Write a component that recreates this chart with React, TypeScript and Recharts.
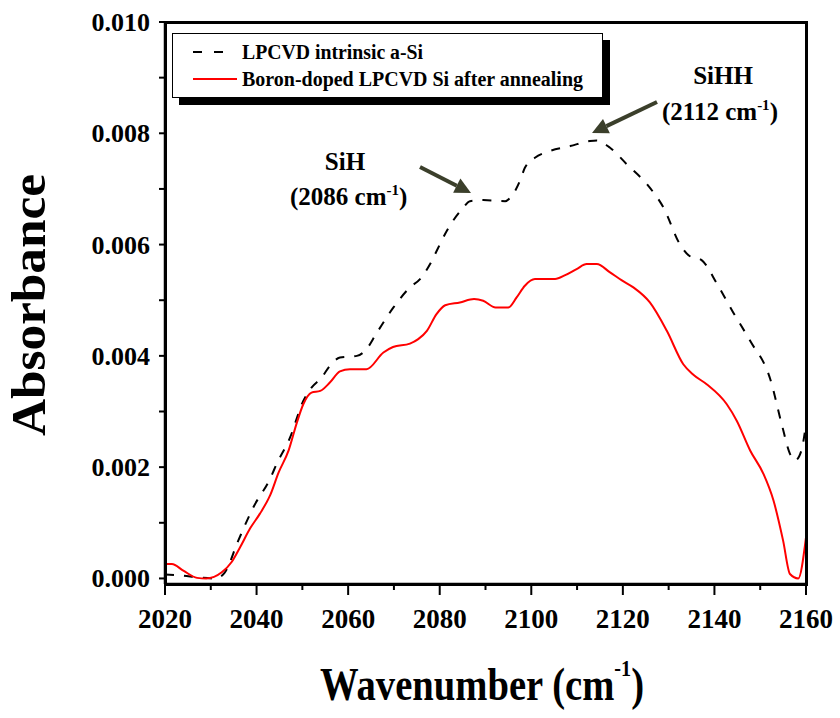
import React from 'react';
import { LineChart, Line, XAxis, YAxis, Label } from 'recharts';

const intrinsicWavenumber = [2020, 2024, 2027, 2031, 2033, 2036, 2039.3, 2043, 2044.4, 2047.3, 2050.2, 2052, 2054.2, 2056, 2058.2, 2061.9, 2063.7, 2066.3, 2069.9, 2073.5, 2075.7, 2077.9, 2079.3, 2081.5, 2085.1, 2086.6, 2089.5, 2094.3, 2095.4, 2097.5, 2098.6, 2100.8, 2104, 2108.5, 2112.8, 2114.3, 2117.2, 2120.9, 2125.3, 2128.9, 2132.5, 2134.5, 2137.2, 2140.6, 2144.1, 2147.8, 2152.2, 2154.7, 2156.5, 2157.6, 2159, 2160];
const intrinsicAbsorbance = [0.00007, 0.00005, 0.00002, 0.0, 0.0001, 0.00068, 0.00128, 0.0018, 0.00206, 0.00253, 0.00319, 0.00343, 0.00361, 0.00382, 0.00397, 0.004, 0.00409, 0.00442, 0.00487, 0.00523, 0.00538, 0.00565, 0.00588, 0.00624, 0.00666, 0.00678, 0.0068, 0.00678, 0.00684, 0.00714, 0.00738, 0.00756, 0.00768, 0.00777, 0.00786, 0.00787, 0.00774, 0.00744, 0.00708, 0.00666, 0.006, 0.0058, 0.00572, 0.00529, 0.00478, 0.00427, 0.00358, 0.00277, 0.00224, 0.00212, 0.0023, 0.00278];

const boronWavenumber = [2020, 2021.5, 2024, 2027, 2029, 2032.4, 2034.6, 2036.4, 2038.6, 2040.7, 2043, 2044.8, 2047, 2048.8, 2050.2, 2052, 2053.9, 2056, 2058.2, 2060.4, 2064, 2067.7, 2069.8, 2073.5, 2075.3, 2077.2, 2079.3, 2081.2, 2084.4, 2087.5, 2089.5, 2092.2, 2095, 2096.8, 2098.6, 2100.8, 2105.2, 2107.4, 2109.9, 2112.1, 2114.3, 2117.2, 2119.7, 2122.3, 2125.9, 2129.6, 2133.2, 2135.4, 2138.3, 2142.7, 2144.9, 2147.8, 2150.7, 2152.9, 2155, 2156.5, 2158.3, 2160];
const boronAbsorbance = [0.00026, 0.00026, 0.00014, 0.00001, 0.0, 0.00011, 0.0003, 0.00056, 0.0009, 0.00116, 0.0015, 0.0019, 0.0023, 0.0028, 0.00313, 0.00334, 0.00337, 0.00352, 0.00372, 0.00376, 0.00376, 0.00406, 0.00416, 0.00422, 0.0043, 0.00445, 0.00475, 0.00491, 0.00496, 0.00502, 0.00499, 0.00487, 0.00487, 0.00505, 0.00526, 0.00538, 0.00538, 0.00545, 0.00556, 0.00565, 0.00565, 0.0055, 0.00536, 0.00523, 0.00496, 0.00445, 0.00385, 0.00366, 0.00349, 0.00313, 0.00283, 0.0023, 0.00188, 0.0014, 0.00068, 0.00008, 0.0, 0.00074];

const xTicks = [2020, 2030, 2040, 2050, 2060, 2070, 2080, 2090, 2100, 2110, 2120, 2130, 2140, 2150, 2160];
const yTicks = [0, 0.001, 0.002, 0.003, 0.004, 0.005, 0.006, 0.007, 0.008, 0.009, 0.01];

const seriesNames = ['LPCVD intrinsic a-Si', 'Boron-doped LPCVD Si after annealing'];

const intrinsicData = intrinsicWavenumber.map((w, i) => ({ w, a: intrinsicAbsorbance[i] }));
const boronData = boronWavenumber.map((w, i) => ({ w, a: boronAbsorbance[i] }));

const FONT = '"Liberation Serif", "Times New Roman", serif';

const W = 840;
const H = 718;
const M = { top: 22, right: 34, bottom: 74, left: 65 };
const X_AXIS_H = 60;
const Y_AXIS_W = 100;

const XTick = (props: any) => {
  const { x, y, payload } = props;
  const v = payload.value;
  const major = Math.round(v) % 20 === 0;
  return (
    <g>
      <line x1={x} x2={x} y1={y} y2={y + (major ? 11 : 6)} stroke="#000" strokeWidth={2} />
      {major && (
        <text x={x} y={y + 44} textAnchor="middle" fontFamily={FONT} fontWeight="bold" fontSize={27} fill="#000">
          {v}
        </text>
      )}
    </g>
  );
};

const YTick = (props: any) => {
  const { x, y, payload } = props;
  const v = payload.value;
  const major = Math.round(v * 1000) % 2 === 0;
  return (
    <g>
      <line x1={x - 6} x2={x} y1={y} y2={y} stroke="#000" strokeWidth={2} />
      {major && (
        <text x={x - 15} y={y + 9} textAnchor="end" fontFamily={FONT} fontWeight="bold" fontSize={26} fill="#000">
          {v.toFixed(3)}
        </text>
      )}
    </g>
  );
};

const LegendBox = () => (
  <div style={{ position: 'absolute', left: 172, top: 33, width: 431, height: 65, border: '1.5px solid #000', background: '#fff', boxShadow: '7px 7px 0 0 #000', boxSizing: 'border-box' }}>
    <svg width={428} height={62} style={{ display: 'block' }}>
      <line x1={20} x2={51} y1={18} y2={18} stroke="#000" strokeWidth={2} strokeDasharray="9 12" />
      <text x={69} y={25} fontFamily={FONT} fontWeight="bold" fontSize={20} fill="#000" textLength={181} lengthAdjust="spacingAndGlyphs">
        {seriesNames[0]}
      </text>
      <line x1={20} x2={64} y1={45} y2={45} stroke="#ff0000" strokeWidth={2} />
      <text x={69} y={52} fontFamily={FONT} fontWeight="bold" fontSize={20} fill="#000" textLength={341} lengthAdjust="spacingAndGlyphs">
        {seriesNames[1]}
      </text>
    </svg>
  </div>
);

const ARROW = '#3b3f2b';

const Arrow = ({ x1, y1, x2, y2 }: { x1: number; y1: number; x2: number; y2: number }) => {
  const ang = Math.atan2(y2 - y1, x2 - x1);
  const len = 16;
  const half = 8;
  const bx = x2 - len * Math.cos(ang);
  const by = y2 - len * Math.sin(ang);
  const px = -Math.sin(ang) * half;
  const py = Math.cos(ang) * half;
  return (
    <g>
      <line x1={x1} y1={y1} x2={bx} y2={by} stroke={ARROW} strokeWidth={4} />
      <polygon points={`${x2},${y2} ${bx + px},${by + py} ${bx - px},${by - py}`} fill={ARROW} />
    </g>
  );
};

export default function App() {
  const L = M.left + Y_AXIS_W;
  const T = M.top;
  const R = W - M.right;
  const B = H - M.bottom - X_AXIS_H;
  return (
    <div style={{ position: 'absolute', left: 0, top: 0, width: W, height: H, background: '#fff' }}>
      <LineChart width={W} height={H} margin={M}>
        <XAxis
          xAxisId="b"
          type="number"
          dataKey="w"
          domain={[2020, 2160]}
          ticks={xTicks}
          interval={0}
          allowDataOverflow
          height={X_AXIS_H}
          tickSize={0}
          tickMargin={0}
          tickLine={false}
          axisLine={{ stroke: '#000', strokeWidth: 2.5 }}
          tick={<XTick />}
        >
          <Label
            content={() => (
              <text transform="translate(320, 700) scale(0.84, 1)" fontFamily={FONT} fontWeight="bold" fontSize={46} fill="#000">
                Wavenumber (cm<tspan dy={-24} fontSize={24}>-1</tspan><tspan dy={24}>)</tspan>
              </text>
            )}
          />
        </XAxis>
        <YAxis
          yAxisId="l"
          type="number"
          domain={[-0.0001, 0.01]}
          ticks={yTicks}
          interval={0}
          allowDataOverflow
          width={Y_AXIS_W}
          tickSize={0}
          tickMargin={0}
          tickLine={false}
          axisLine={{ stroke: '#000', strokeWidth: 2.5 }}
          tick={<YTick />}
        >
          <Label
            content={() => (
              <text x={45} y={305} transform="rotate(-90, 45, 305)" textAnchor="middle" fontFamily={FONT} fontWeight="bold" fontSize={48} fill="#000" textLength={262} lengthAdjust="spacingAndGlyphs">
                Absorbance
              </text>
            )}
          />
        </YAxis>
        <Line
          xAxisId="b"
          yAxisId="l"
          data={intrinsicData}
          dataKey="a"
          name={seriesNames[0]}
          type="monotone"
          stroke="#000"
          strokeWidth={2}
          strokeDasharray="9 10"
          dot={false}
          isAnimationActive={false}
        />
        <Line
          xAxisId="b"
          yAxisId="l"
          data={boronData}
          dataKey="a"
          name={seriesNames[1]}
          type="monotone"
          stroke="#ff0000"
          strokeWidth={2}
          dot={false}
          isAnimationActive={false}
        />
      </LineChart>
      <div
        style={{
          position: 'absolute',
          left: L - 1.5,
          top: T - 1.5,
          width: R - L + 3,
          height: B - T + 3,
          border: '3px solid #000',
          boxSizing: 'border-box',
          pointerEvents: 'none',
        }}
      />
      <LegendBox />
      <svg width={W} height={H} style={{ position: 'absolute', left: 0, top: 0, pointerEvents: 'none' }}>
        <text x={345} y={170} textAnchor="middle" fontFamily={FONT} fontWeight="bold" fontSize={25} fill="#000">SiH</text>
        <text x={290} y={205} fontFamily={FONT} fontWeight="bold" fontSize={25} fill="#000">
          (2086 cm<tspan dy={-10} fontSize={15}>-1</tspan><tspan dy={10}>)</tspan>
        </text>
        <Arrow x1={420} y1={167} x2={471} y2={193} />
        <text x={723} y={84} textAnchor="middle" fontFamily={FONT} fontWeight="bold" fontSize={25} fill="#000">SiHH</text>
        <text x={662} y={120} fontFamily={FONT} fontWeight="bold" fontSize={25} fill="#000">
          (2112 cm<tspan dy={-10} fontSize={15}>-1</tspan><tspan dy={10}>)</tspan>
        </text>
        <Arrow x1={657} y1={102} x2={592} y2={133} />
      </svg>
    </div>
  );
}
